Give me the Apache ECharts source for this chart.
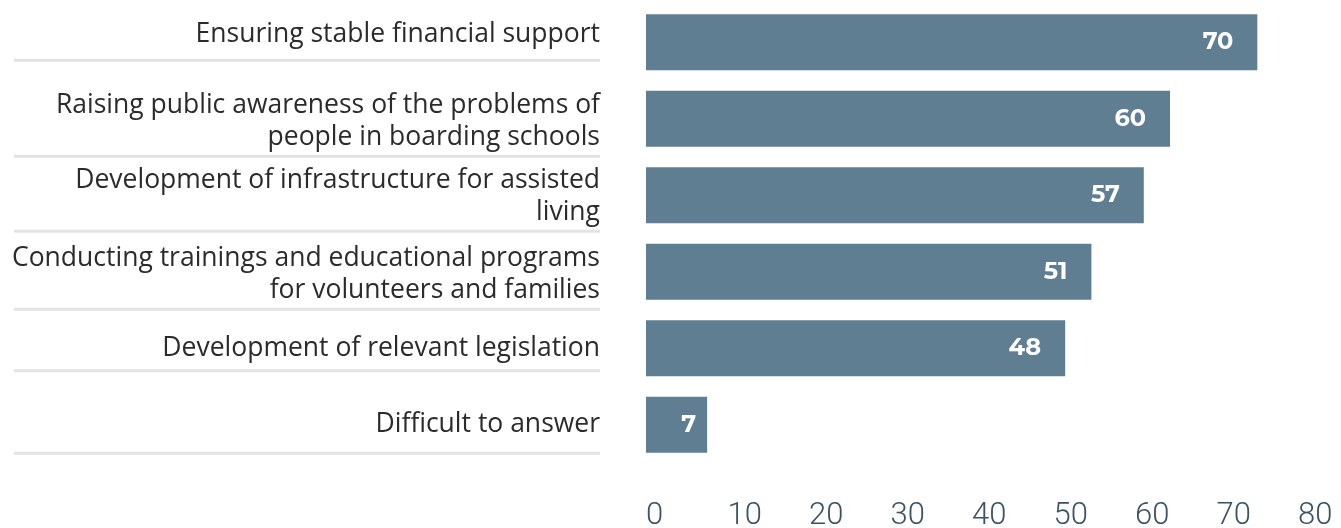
<!DOCTYPE html>
<html>
<head>
<meta charset="utf-8">
<script src="https://cdn.jsdelivr.net/npm/echarts@6/dist/echarts.min.js"></script>
<style>
  html, body { margin: 0; padding: 0; background: #ffffff; }
  #chart { width: 1341px; height: 528px; }
</style>
</head>
<body>
<div id="chart"></div>
<script>
// ---- data ----
const categories = [
  'Ensuring stable financial support',
  'Raising public awareness of the problems of\npeople in boarding schools',
  'Development of infrastructure for assisted\nliving',
  'Conducting trainings and educational programs\nfor volunteers and families',
  'Development of relevant legislation',
  'Difficult to answer'
];
const values = [70, 60, 57, 51, 48, 7];
const tickValues = [0, 10, 20, 30, 40, 50, 60, 70, 80];

// ---- label block layout (space above text, between text and rule, below rule) ----
const padTop = [3, 11, 8, 11, 9, 15];
const gapRule = [8, 1, 1, 1, 5, 11];
const padBottom = [7, 1, 1, 1, 1, 1];

// ---- chart ----
const chart = echarts.init(document.getElementById('chart'), null, { renderer: 'canvas' });

const BAR_COLOR = '#5f7e92';

const seriesData = values.map(v => ({
  value: v,
  label: { distance: v < 10 ? 11 : 24 }
}));

const rich = {
  t: { fontFamily: '"Open Sans", sans-serif', fontSize: 26.5, lineHeight: 32, color: '#2b2b2b', align: 'right' },
  s: { width: 586, height: 3, lineHeight: 3, fontSize: 1, backgroundColor: '#e3e3e3', align: 'right' }
};
categories.forEach((c, i) => {
  rich['a' + i] = { fontSize: 1, height: padTop[i], lineHeight: padTop[i] };
  rich['g' + i] = { fontSize: 1, height: gapRule[i], lineHeight: gapRule[i] };
  rich['b' + i] = { fontSize: 1, height: padBottom[i], lineHeight: padBottom[i] };
});

const option = {
  animation: false,
  backgroundColor: '#ffffff',
  grid: [
    { left: 646, right: 40, top: 4, bottom: 65, containLabel: false },
    { left: 646, right: 43, top: 490, height: 10, containLabel: false }
  ],
  xAxis: [
    {
      gridIndex: 0, type: 'value', min: 0, max: 75,
      show: false
    },
    {
      gridIndex: 1, type: 'value', min: tickValues[0], max: tickValues[tickValues.length - 1], interval: 10,
      axisLine: { show: false }, axisTick: { show: false }, splitLine: { show: false },
      axisLabel: {
        show: true, align: 'left', margin: 8,
        fontFamily: 'Roboto, Inter, sans-serif', fontWeight: 300, fontSize: 31,
        color: '#3b5264'
      }
    }
  ],
  yAxis: [
    {
      gridIndex: 0, type: 'category', data: categories, inverse: true,
      axisLine: { show: false }, axisTick: { show: false }, splitLine: { show: false },
      axisLabel: {
        margin: 46,
        align: 'right',
        formatter: function (val, idx) {
          const lines = val.split('\n').map(l => '{t|' + l + '}');
          return '{a' + idx + '| }\n' + lines.join('\n') + '\n{g' + idx + '| }\n{s| }\n{b' + idx + '| }';
        },
        rich: rich
      }
    },
    {
      gridIndex: 1, type: 'category', data: [''], show: false
    }
  ],
  series: [
    {
      type: 'bar',
      xAxisIndex: 0, yAxisIndex: 0,
      data: seriesData,
      barWidth: 56,
      itemStyle: { color: BAR_COLOR },
      label: {
        show: true,
        position: 'insideRight',
        color: '#ffffff',
        fontFamily: 'Montserrat, Inter, "Open Sans", sans-serif',
        fontWeight: 'bold',
        fontSize: 24
      }
    }
  ]
};

chart.setOption(option);
</script>
</body>
</html>
